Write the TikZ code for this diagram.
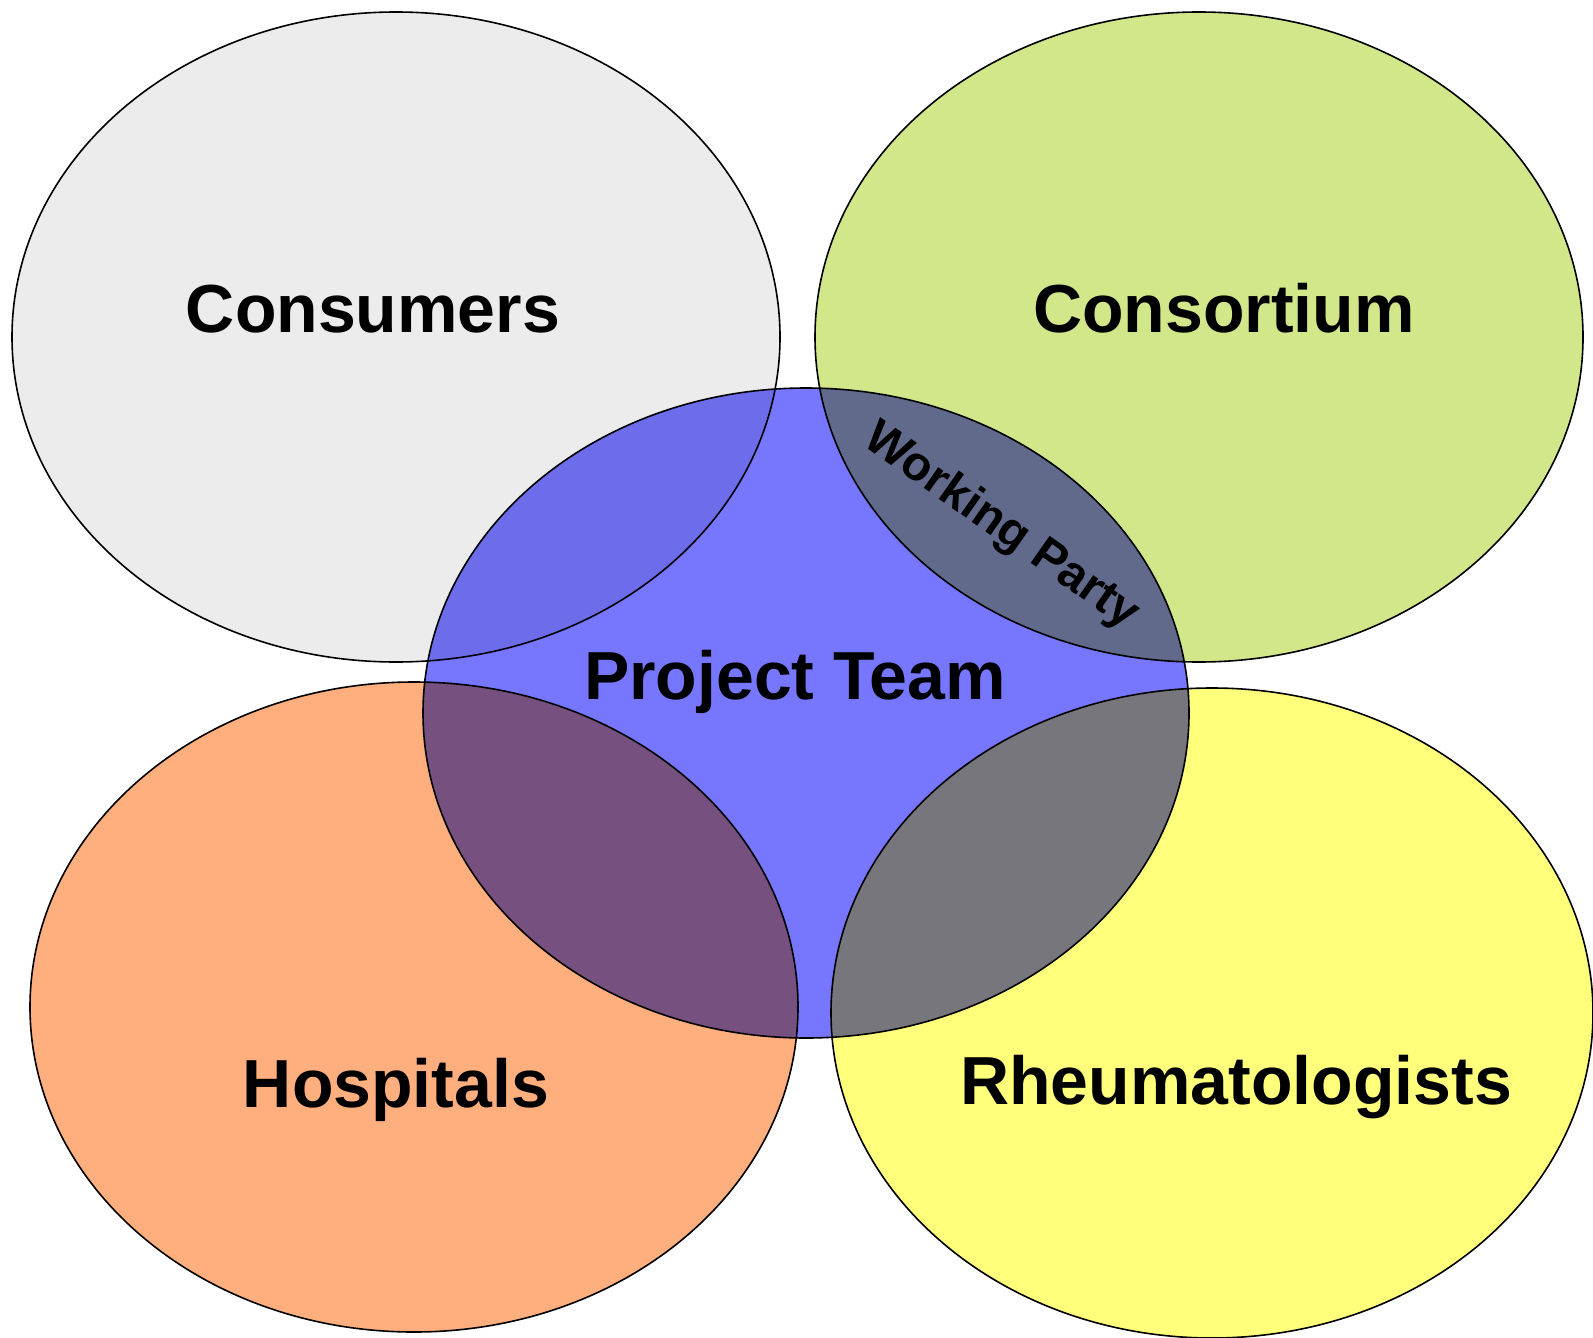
\documentclass[tikz,border=0pt]{standalone}
\usepackage{fontspec}
\setmainfont{Liberation Sans}

\definecolor{consumerfill}{HTML}{ECECEC}
\definecolor{consortfill}{HTML}{D2E78A}
\definecolor{teamfill}{HTML}{7676FF}
\definecolor{hospfill}{HTML}{FFAE7E}
\definecolor{rheumfill}{HTML}{FFFF7C}

\tikzset{blob/.style={draw=black,line width=0.8pt},
  bigtext/.style={font=\fontsize{34}{40}\selectfont\bfseries,anchor=base}}

\begin{document}
\begin{tikzpicture}[x=0.5pt,y=-0.5pt,blend mode=multiply]
        \useasboundingbox (0,0) rectangle (1593,1337);
        % the five groups
        \draw[blob,fill=consumerfill] (396,337) ellipse [x radius=384,y radius=325];
        \draw[blob,fill=consortfill] (1199,337) ellipse [x radius=384,y radius=325];
        \draw[blob,fill=teamfill] (806,713) ellipse [x radius=383,y radius=325];
        \draw[blob,fill=hospfill] (414,1007) ellipse [x radius=384,y radius=325];
        \draw[blob,fill=rheumfill] (1212,1013) ellipse [x radius=381,y radius=325];
        % labels
        \node[bigtext] (consumers) at (373,332) {Consumers};
        \node[bigtext] (consortium) at (1224,332) {Consortium};
        \node[bigtext] (team) at (795,699) {Project Team};
        \node[bigtext] (hospitals) at (396,1107) {Hospitals};
        \node[bigtext] (rheum) at (1236,1104) {Rheumatologists};
        \node[font=\fontsize{24}{28}\selectfont\bfseries,rotate=-35] (party) at (1001,527) {Working Party};
\end{tikzpicture}
\end{document}
